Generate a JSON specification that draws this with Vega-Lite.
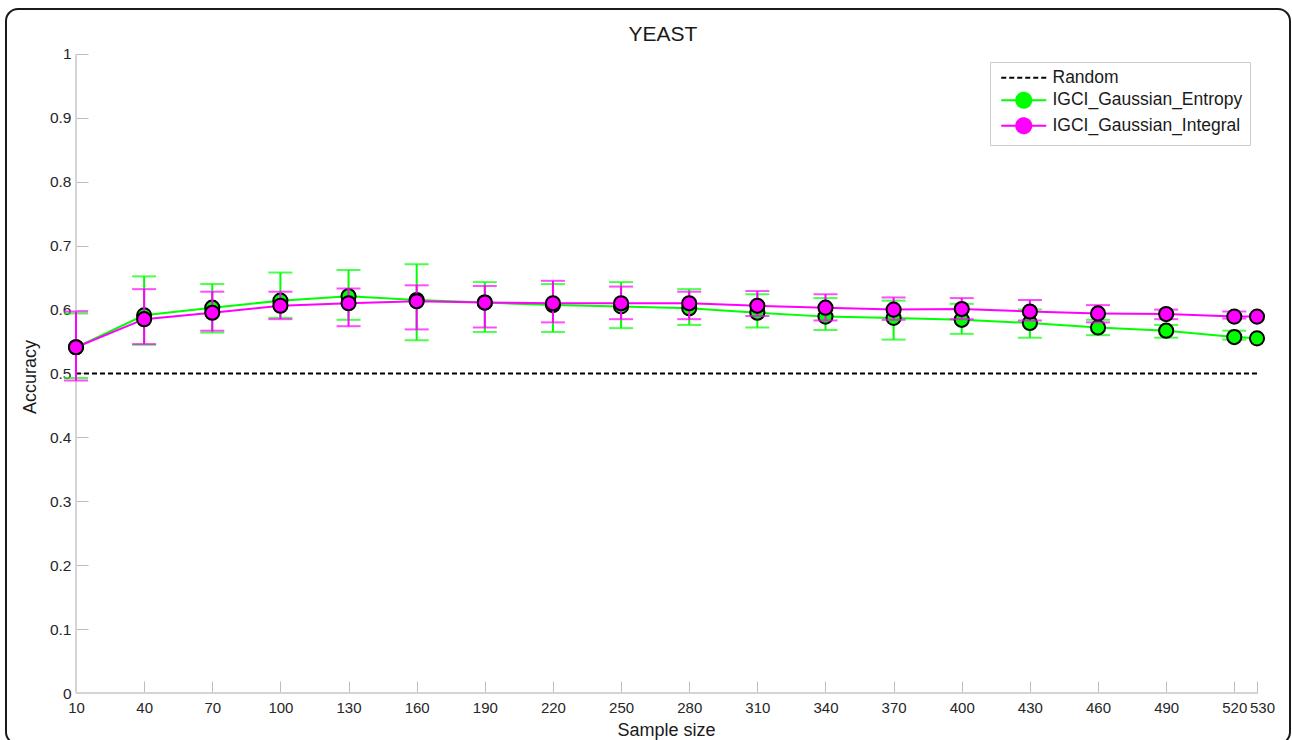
{
  "$schema": "https://vega.github.io/schema/vega-lite/v6.json",
  "width": 1284,
  "height": 735,
  "autosize": {"type": "none"},
  "padding": {"left": 6, "top": 9, "right": 2, "bottom": 0},
  "background": "white",
  "title": {"text": "YEAST", "fontSize": 21, "font": "Liberation Sans", "fontWeight": "normal", "color": "#1a1a1a", "baseline": "alphabetic", "offset": -53, "dx": 15, "anchor": "middle"},
  "config": {
    "view": {"stroke": "#1a1a1a", "strokeWidth": 2, "cornerRadius": 12},
    "font": "Liberation Sans",
    "axis": {"labelFont": "Liberation Sans", "titleFont": "Liberation Sans", "labelColor": "#262626", "titleColor": "#1a1a1a", "titleFontWeight": "normal", "grid": false, "domain": false, "tickColor": "#bdbdbd", "labelFlush": false, "labelOverlap": false}
  },
  "datasets": {
    "acc": [
      {"n": 10, "method": "Random", "acc": 0.5},
      {"n": 530, "method": "Random", "acc": 0.5},
      {"n": 10, "method": "IGCI_Gaussian_Entropy", "acc": 0.541, "lo": 0.493, "hi": 0.594},
      {"n": 40, "method": "IGCI_Gaussian_Entropy", "acc": 0.591, "lo": 0.545, "hi": 0.652},
      {"n": 70, "method": "IGCI_Gaussian_Entropy", "acc": 0.603, "lo": 0.564, "hi": 0.640},
      {"n": 100, "method": "IGCI_Gaussian_Entropy", "acc": 0.614, "lo": 0.587, "hi": 0.658},
      {"n": 130, "method": "IGCI_Gaussian_Entropy", "acc": 0.621, "lo": 0.584, "hi": 0.662},
      {"n": 160, "method": "IGCI_Gaussian_Entropy", "acc": 0.615, "lo": 0.552, "hi": 0.671},
      {"n": 190, "method": "IGCI_Gaussian_Entropy", "acc": 0.611, "lo": 0.565, "hi": 0.643},
      {"n": 220, "method": "IGCI_Gaussian_Entropy", "acc": 0.607, "lo": 0.565, "hi": 0.640},
      {"n": 250, "method": "IGCI_Gaussian_Entropy", "acc": 0.605, "lo": 0.571, "hi": 0.643},
      {"n": 280, "method": "IGCI_Gaussian_Entropy", "acc": 0.602, "lo": 0.576, "hi": 0.632},
      {"n": 310, "method": "IGCI_Gaussian_Entropy", "acc": 0.595, "lo": 0.572, "hi": 0.624},
      {"n": 340, "method": "IGCI_Gaussian_Entropy", "acc": 0.589, "lo": 0.568, "hi": 0.618},
      {"n": 370, "method": "IGCI_Gaussian_Entropy", "acc": 0.587, "lo": 0.553, "hi": 0.614},
      {"n": 400, "method": "IGCI_Gaussian_Entropy", "acc": 0.584, "lo": 0.562, "hi": 0.609},
      {"n": 430, "method": "IGCI_Gaussian_Entropy", "acc": 0.579, "lo": 0.556, "hi": 0.600},
      {"n": 460, "method": "IGCI_Gaussian_Entropy", "acc": 0.572, "lo": 0.560, "hi": 0.584},
      {"n": 490, "method": "IGCI_Gaussian_Entropy", "acc": 0.567, "lo": 0.556, "hi": 0.576},
      {"n": 520, "method": "IGCI_Gaussian_Entropy", "acc": 0.557, "lo": 0.553, "hi": 0.567},
      {"n": 530, "method": "IGCI_Gaussian_Entropy", "acc": 0.555, "lo": null, "hi": null},
      {"n": 10, "method": "IGCI_Gaussian_Integral", "acc": 0.541, "lo": 0.489, "hi": 0.597},
      {"n": 40, "method": "IGCI_Gaussian_Integral", "acc": 0.585, "lo": 0.546, "hi": 0.632},
      {"n": 70, "method": "IGCI_Gaussian_Integral", "acc": 0.595, "lo": 0.567, "hi": 0.628},
      {"n": 100, "method": "IGCI_Gaussian_Integral", "acc": 0.606, "lo": 0.585, "hi": 0.628},
      {"n": 130, "method": "IGCI_Gaussian_Integral", "acc": 0.610, "lo": 0.574, "hi": 0.633},
      {"n": 160, "method": "IGCI_Gaussian_Integral", "acc": 0.613, "lo": 0.569, "hi": 0.638},
      {"n": 190, "method": "IGCI_Gaussian_Integral", "acc": 0.611, "lo": 0.572, "hi": 0.637},
      {"n": 220, "method": "IGCI_Gaussian_Integral", "acc": 0.610, "lo": 0.580, "hi": 0.645},
      {"n": 250, "method": "IGCI_Gaussian_Integral", "acc": 0.610, "lo": 0.585, "hi": 0.636},
      {"n": 280, "method": "IGCI_Gaussian_Integral", "acc": 0.610, "lo": 0.585, "hi": 0.628},
      {"n": 310, "method": "IGCI_Gaussian_Integral", "acc": 0.606, "lo": 0.590, "hi": 0.629},
      {"n": 340, "method": "IGCI_Gaussian_Integral", "acc": 0.603, "lo": 0.583, "hi": 0.624},
      {"n": 370, "method": "IGCI_Gaussian_Integral", "acc": 0.600, "lo": 0.584, "hi": 0.619},
      {"n": 400, "method": "IGCI_Gaussian_Integral", "acc": 0.601, "lo": 0.585, "hi": 0.618},
      {"n": 430, "method": "IGCI_Gaussian_Integral", "acc": 0.597, "lo": 0.583, "hi": 0.615},
      {"n": 460, "method": "IGCI_Gaussian_Integral", "acc": 0.594, "lo": 0.580, "hi": 0.607},
      {"n": 490, "method": "IGCI_Gaussian_Integral", "acc": 0.593, "lo": 0.585, "hi": 0.600},
      {"n": 520, "method": "IGCI_Gaussian_Integral", "acc": 0.589, "lo": 0.586, "hi": 0.597},
      {"n": 530, "method": "IGCI_Gaussian_Integral", "acc": 0.589, "lo": null, "hi": null}
    ]
  },
  "data": {"name": "acc"},
  "encoding": {
    "x": {"field": "n", "type": "quantitative", "scale": {"domain": [-20.82, 544.53], "nice": false, "zero": false},
      "axis": {"title": "Sample size", "values": [10, 40, 70, 100, 130, 160, 190, 220, 250, 280, 310, 340, 370, 400, 430, 460, 490, 520, 530], "offset": -51, "tickSize": -12, "labelPadding": 19, "labelFontSize": 15, "titleFontSize": 18, "titleX": 660, "titlePadding": 6,
        "labelOffset": {"condition": {"test": "datum.value === 530", "value": 5}, "value": 0}}},
    "color": {"field": "method", "type": "nominal",
      "scale": {"domain": ["Random", "IGCI_Gaussian_Entropy", "IGCI_Gaussian_Integral"], "range": ["#000000", "#00ff00", "#ff00ff"]},
      "legend": {"title": null, "orient": "none", "legendX": 984, "legendY": 53, "padding": 7, "rowPadding": 1.5,
        "labelFontSize": 17.5, "labelFont": "Liberation Sans", "labelColor": "#1a1a1a", "labelLimit": 400, "symbolOffset": 18, "labelOffset": 20,
        "strokeColor": "#cccccc", "fillColor": "white", "symbolSize": 225,
        "encode": {"symbols": {"update": {
          "shape": {"signal": "datum.value === 'Random' ? 'M-3,0H3' : 'M-3,0H3M1,0A1,1,0,1,1,-1,0A1,1,0,1,1,1,0Z'"},
          "fill": {"signal": "datum.value === 'Random' ? 'transparent' : scale('color', datum.value)"},
          "stroke": {"signal": "scale('color', datum.value)"},
          "strokeDash": {"signal": "datum.value === 'Random' ? [5, 3] : [1, 0]"},
          "strokeWidth": {"value": 2},
          "size": {"value": 225},
          "opacity": {"value": 1}
        }}}}}
  },
  "layer": [
    {"mark": {"type": "rule", "color": "#d4d4d4", "strokeWidth": 1}, "encoding": {"x": {"datum": 10}, "y": {"datum": 0}, "y2": {"datum": 1}, "color": {"value": "#d4d4d4"}}},
    {"mark": {"type": "rule", "color": "#d4d4d4", "strokeWidth": 1}, "encoding": {"x": {"datum": 10}, "x2": {"datum": 530}, "y": {"datum": 0}, "color": {"value": "#d4d4d4"}}},
    {"transform": [{"filter": "datum.method === 'Random'"}], "mark": {"type": "line", "strokeDash": [5, 3], "strokeWidth": 2},
      "encoding": {"y": {"field": "acc", "type": "quantitative", "scale": {"domain": [-0.0798, 1.0704], "nice": false, "zero": false},
        "axis": {"title": "Accuracy", "values": [0, 0.1, 0.2, 0.3, 0.4, 0.5, 0.6, 0.7, 0.8, 0.9, 1], "format": "~g", "offset": -70, "tickSize": -12, "labelPadding": 17, "labelFontSize": 15.5, "titleFontSize": 18, "titlePadding": 10}}}},
    {"transform": [{"filter": "datum.method === 'IGCI_Gaussian_Entropy' && datum.lo != null"}], "mark": {"type": "rule", "strokeWidth": 2},
      "encoding": {"y": {"field": "lo", "type": "quantitative"}, "y2": {"field": "hi"}}},
    {"transform": [{"filter": "datum.method === 'IGCI_Gaussian_Entropy' && datum.lo != null"}], "mark": {"type": "tick", "orient": "horizontal", "size": 24, "thickness": 2},
      "encoding": {"y": {"field": "lo", "type": "quantitative"}}},
    {"transform": [{"filter": "datum.method === 'IGCI_Gaussian_Entropy' && datum.lo != null"}], "mark": {"type": "tick", "orient": "horizontal", "size": 24, "thickness": 2},
      "encoding": {"y": {"field": "hi", "type": "quantitative"}}},
    {"transform": [{"filter": "datum.method === 'IGCI_Gaussian_Entropy'"}], "mark": {"type": "line", "strokeWidth": 2},
      "encoding": {"y": {"field": "acc", "type": "quantitative"}}},
    {"transform": [{"filter": "datum.method === 'IGCI_Gaussian_Entropy'"}], "mark": {"type": "point", "filled": true, "stroke": "#000000", "strokeWidth": 2, "size": 200, "opacity": 1, "shape": "circle"},
      "encoding": {"y": {"field": "acc", "type": "quantitative"}}},
    {"transform": [{"filter": "datum.method === 'IGCI_Gaussian_Integral' && datum.lo != null"}], "mark": {"type": "rule", "strokeWidth": 2},
      "encoding": {"y": {"field": "lo", "type": "quantitative"}, "y2": {"field": "hi"}}},
    {"transform": [{"filter": "datum.method === 'IGCI_Gaussian_Integral' && datum.lo != null"}], "mark": {"type": "tick", "orient": "horizontal", "size": 24, "thickness": 2},
      "encoding": {"y": {"field": "lo", "type": "quantitative"}}},
    {"transform": [{"filter": "datum.method === 'IGCI_Gaussian_Integral' && datum.lo != null"}], "mark": {"type": "tick", "orient": "horizontal", "size": 24, "thickness": 2},
      "encoding": {"y": {"field": "hi", "type": "quantitative"}}},
    {"transform": [{"filter": "datum.method === 'IGCI_Gaussian_Integral'"}], "mark": {"type": "line", "strokeWidth": 2},
      "encoding": {"y": {"field": "acc", "type": "quantitative"}}},
    {"transform": [{"filter": "datum.method === 'IGCI_Gaussian_Integral'"}], "mark": {"type": "point", "filled": true, "stroke": "#000000", "strokeWidth": 2, "size": 200, "opacity": 1, "shape": "circle"},
      "encoding": {"y": {"field": "acc", "type": "quantitative"}}}
  ]
}
